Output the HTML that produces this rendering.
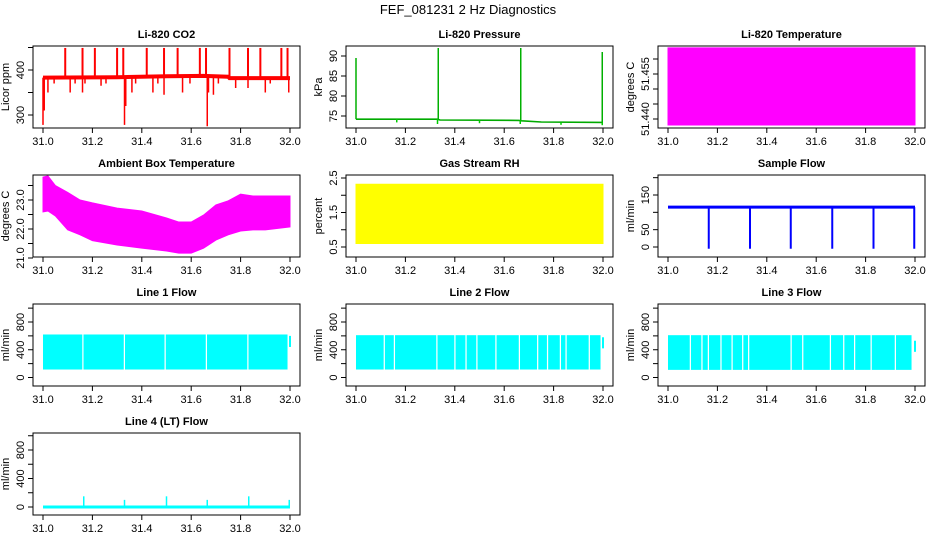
<!DOCTYPE html>
<html><head><meta charset="utf-8"><style>
html,body{margin:0;padding:0;background:#fff;}
svg{display:block;font-family:"Liberation Sans",Arial,sans-serif;}
</style></head><body>
<svg id="chart" width="936" height="540" viewBox="0 0 936 540">
<text x="468" y="14" text-anchor="middle" font-size="13">FEF_081231  2 Hz Diagnostics</text>
</svg>
<script>
// ---------- data ----------
const xTicks = [31.0, 31.2, 31.4, 31.6, 31.8, 32.0];
const xTickLabels = ["31.0", "31.2", "31.4", "31.6", "31.8", "32.0"];

// CO2
const co2BaseX = [31.0, 31.3, 31.5, 31.65, 31.75, 31.755, 32.0];
const co2BaseY = [383, 384, 386, 387, 385, 382, 382];
const co2UpX = [31.09, 31.16, 31.21, 31.30, 31.325, 31.42, 31.49, 31.545, 31.635, 31.66, 31.755, 31.83, 31.88, 31.965, 31.99];
const co2UpY = [449, 449, 449, 449, 449, 449, 449, 449, 449, 449, 449, 449, 449, 449, 449];
const co2DownX = [31.0, 31.005, 31.02, 31.045, 31.11, 31.13, 31.16, 31.17, 31.235, 31.255, 31.33, 31.335, 31.36, 31.375, 31.445, 31.465, 31.49, 31.565, 31.595, 31.665, 31.67, 31.69, 31.71, 31.78, 31.83, 31.9, 31.92, 31.995];
const co2DownY = [278, 310, 350, 370, 350, 370, 350, 370, 365, 370, 278, 320, 350, 370, 350, 370, 345, 350, 370, 275, 350, 345, 370, 360, 360, 350, 370, 350];

// Pressure
const presBaseX = [31.0, 31.33, 31.34, 31.66, 31.67, 31.75, 32.0];
const presBaseY = [74.2, 74.2, 74.0, 73.9, 73.8, 73.5, 73.4];
const presSpikeX = [31.0, 31.333, 31.667, 31.997];
const presSpikeY = [89.5, 92, 92, 91];
const presDipX = [31.165, 31.33, 31.5, 31.665, 31.83, 31.997];
const presDipY = [73.4, 73.0, 73.2, 73.0, 72.8, 72.7];

// Li-820 temperature
const tempX = [31.0, 32.0];
const tempLow = [51.438, 51.438];
const tempHigh = [51.4637, 51.4637];

// Ambient box temperature
const ambX = [31.0, 31.02, 31.05, 31.1, 31.15, 31.2, 31.3, 31.4, 31.5, 31.55, 31.6, 31.65, 31.7, 31.75, 31.8, 31.85, 31.9, 32.0];
const ambHigh = [23.79, 23.83, 23.5, 23.26, 23.0, 22.9, 22.72, 22.62, 22.38, 22.24, 22.24, 22.48, 22.83, 22.97, 23.2, 23.14, 23.14, 23.14];
const ambLow = [22.59, 22.62, 22.45, 21.97, 21.8, 21.6, 21.45, 21.34, 21.24, 21.17, 21.17, 21.34, 21.62, 21.8, 21.93, 21.97, 21.97, 22.07];

// RH
const rhX = [31.0, 32.0];
const rhHigh = [2.32, 2.32];
const rhLow = [0.6, 0.6];

// Sample flow
const sfBaseX = [31.0, 32.0];
const sfBaseY = [115, 115];
const sfDropX = [31.165, 31.332, 31.497, 31.665, 31.832, 31.997];
const sfDropY = [-5, -5, -5, -5, -5, -5];

// Line flows: gap positions
const line1Gaps = [31.159, 31.327, 31.492, 31.659, 31.827];
const line2Gaps = [31.112, 31.153, 31.325, 31.398, 31.443, 31.487, 31.564, 31.659, 31.733, 31.773, 31.825, 31.848, 31.942];
const line3Gaps = [31.088, 31.135, 31.161, 31.212, 31.257, 31.3, 31.324, 31.496, 31.543, 31.655, 31.709, 31.753, 31.82, 31.918];
const lineBandEnd = [31.99, 31.99, 31.986];
const lineBandHigh = [620, 610, 610];
const lineBandLow = [115, 115, 110];
const lineTailY = [520, 500, 450];

// Line 4
const l4SpikeX = [31.165, 31.33, 31.5, 31.665, 31.833, 31.997];
const l4SpikeY = [150, 100, 150, 100, 150, 100];

// ---------- drawing ----------
const svg = document.getElementById('chart');
const NS = 'http://www.w3.org/2000/svg';
function mk(tag, attrs, parent) {
  const e = document.createElementNS(NS, tag);
  for (const k in attrs) e.setAttribute(k, attrs[k]);
  (parent || svg).appendChild(e);
  return e;
}
const colX = [33, 346, 658];
const rowY = [46, 175, 304, 433];
const BW = 267, BH = 82;

function panel(col, row, title, ylab, yv1, yv2, yt, ylabels, name) {
  const x0 = colX[col], y0 = rowY[row], x1 = x0 + BW, y1 = y0 + BH;
  const g = mk('g', {});
  
  
  const sy = v => y0 + yv1[1] + (v - yv1[0]) * (yv2[1] - yv1[1]) / (yv2[0] - yv1[0]);
  const sx = v => x0 + 10 + (v - 31) * (BW - 20);
  const t = mk('text', {x: x0 + BW / 2, y: y0 - 8, 'text-anchor': 'middle', 'font-size': 11, 'font-weight': 'bold'}, g);
  t.textContent = title;
  
  
  const plot = mk('g', {}, g);
  
  
  const xa = mk('g', {}, g);
  
  
  xTicks.forEach((v, i) => {
    mk('line', {x1: sx(v), x2: sx(v), y1: y1, y2: y1 + 5, stroke: '#000'}, xa);
    const l = mk('text', {x: sx(v), y: y1 + 17, 'text-anchor': 'middle', 'font-size': 11}, xa);
    l.textContent = xTickLabels[i];
  });
  const ya = mk('g', {}, g);
  
  
  yt.forEach((v, i) => {
    const py = sy(v);
    mk('line', {x1: x0 - 5, x2: x0, y1: py, y2: py, stroke: '#000'}, ya);
    if (ylabels[i]) {
      const l = mk('text', {x: x0 - 9, y: py, 'text-anchor': 'middle', 'font-size': 11, transform: `rotate(-90 ${x0 - 9} ${py})`}, ya);
      l.textContent = ylabels[i];
    }
  });
  const yl = mk('text', {x: x0 - 24, y: y0 + BH / 2, 'text-anchor': 'middle', 'font-size': 11, transform: `rotate(-90 ${x0 - 24} ${y0 + BH / 2})`}, g);
  yl.textContent = ylab;
  
  
  const box = mk('rect', {x: x0, y: y0, width: BW, height: BH, fill: 'none', stroke: '#000'}, g);
  
  
  return {sx, sy, plot};
}
function poly(p, xs, ys, color, sw) {
  const pts = xs.map((x, i) => p.sx(x) + ',' + p.sy(ys[i])).join(' ');
  return mk('polyline', {points: pts, fill: 'none', stroke: color, 'stroke-width': sw || 1}, p.plot);
}
function band(p, xs, hi, lo, color) {
  const pts = xs.map((x, i) => p.sx(x) + ',' + p.sy(hi[i])).concat(
    xs.slice().reverse().map((x, i) => p.sx(x) + ',' + p.sy(lo[xs.length - 1 - i]))).join(' ');
  return mk('polygon', {points: pts, fill: color, stroke: color}, p.plot);
}
function vlines(p, xs, ys, baseFn, color, sw) {
  xs.forEach((x, i) => {
    mk('line', {x1: p.sx(x), x2: p.sx(x), y1: p.sy(baseFn(x)), y2: p.sy(ys[i]), stroke: color, 'stroke-width': sw || 1.5}, p.plot);
  });
}
function interp(xs, ys, x) {
  for (let i = 0; i < xs.length - 1; i++) if (x <= xs[i + 1]) {
    const f = (x - xs[i]) / (xs[i + 1] - xs[i] || 1); return ys[i] + f * (ys[i + 1] - ys[i]);
  }
  return ys[ys.length - 1];
}

let p = panel(0, 0, 'Li-820 CO2', 'Licor ppm', [400, 24], [300, 69], [300, 350, 400, 450], ['300', '', '400', ''], 'co2');
poly(p, co2BaseX, co2BaseY, '#ff0000', 4);
vlines(p, co2UpX, co2UpY, x => interp(co2BaseX, co2BaseY, x), '#ff0000', 2);
vlines(p, co2DownX, co2DownY, x => interp(co2BaseX, co2BaseY, x), '#ff0000', 1.5);

p = panel(1, 0, 'Li-820 Pressure', 'kPa', [90, 10], [75, 70], [75, 80, 85, 90], ['75', '80', '85', '90'], 'pressure');
poly(p, presBaseX, presBaseY, '#00aa00', 1.6);
vlines(p, presSpikeX, presSpikeY, x => interp(presBaseX, presBaseY, x), '#00b000', 1.5);
vlines(p, presDipX, presDipY, x => interp(presBaseX, presBaseY, x), '#00cc00', 1.5);

p = panel(2, 0, 'Li-820 Temperature', 'degrees C', [51.455, 28], [51.440, 73], [51.440, 51.445, 51.450, 51.455, 51.460], ['51.440', '', '', '51.455', ''], 'li820-temperature');
band(p, tempX, tempHigh, tempLow, '#ff00ff');

p = panel(0, 1, 'Ambient Box Temperature', 'degrees C', [23.0, 25], [22.0, 54], [21.0, 21.5, 22.0, 22.5, 23.0, 23.5], ['21.0', '', '22.0', '', '23.0', ''], 'ambient-temperature');
band(p, ambX, ambHigh, ambLow, '#ff00ff');

p = panel(1, 1, 'Gas Stream RH', 'percent', [2.5, 3], [0.5, 72], [0.5, 1.0, 1.5, 2.0, 2.5], ['0.5', '', '1.5', '', '2.5'], 'gas-stream-rh');
band(p, rhX, rhHigh, rhLow, '#ffff00');

p = panel(2, 1, 'Sample Flow', 'ml/min', [150, 20], [0, 72], [0, 50, 100, 150, 200], ['0', '50', '', '150', ''], 'sample-flow');
poly(p, sfBaseX, sfBaseY, '#0000ff', 3);
vlines(p, sfDropX, sfDropY, x => interp(sfBaseX, sfBaseY, x), '#0000ff', 2);

const lineGaps = [line1Gaps, line2Gaps, line3Gaps];
['Line 1 Flow', 'Line 2 Flow', 'Line 3 Flow'].forEach((ttl, k) => {
  const q = panel(k, 2, ttl, 'ml/min', [800, 18], [0, 73.5], [0, 200, 400, 600, 800, 1000], ['0', '', '400', '', '800', ''], 'line' + (k + 1) + '-flow');
  const gaps = lineGaps[k];
  let start = 31.0;
  gaps.concat([lineBandEnd[k]]).forEach((gx, i) => {
    const x0 = q.sx(start), x1 = q.sx(gx);
    const r = mk('rect', {x: x0, y: q.sy(lineBandHigh[k]), width: Math.max(0, x1 - x0), height: q.sy(lineBandLow[k]) - q.sy(lineBandHigh[k]), fill: '#00ffff'}, q.plot);
    
    
    start = gx + 0.005;
  });
  mk('line', {x1: q.sx(32.0), x2: q.sx(32.0), y1: q.sy(lineTailY[k] + 80), y2: q.sy(lineTailY[k] - 80), stroke: '#00ffff', 'stroke-width': 2}, q.plot);
});

p = panel(0, 3, 'Line 4 (LT) Flow', 'ml/min', [800, 17], [0, 74], [0, 200, 400, 600, 800, 1000], ['0', '', '400', '', '800', ''], 'line4-flow');
poly(p, [31.0, 32.0], [0, 0], '#00ffff', 3);
vlines(p, l4SpikeX, l4SpikeY, () => 0, '#00ffff', 1.5);
</script>
</body></html>
